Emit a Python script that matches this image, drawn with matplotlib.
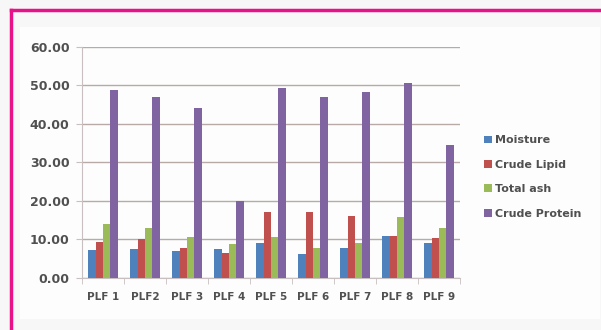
import numpy as np
import matplotlib.pyplot as plt
from matplotlib.lines import Line2D

categories = ['PLF 1', 'PLF2', 'PLF 3', 'PLF 4', 'PLF 5', 'PLF 6', 'PLF 7', 'PLF 8', 'PLF 9']
moisture = [7.2, 7.6, 7.0, 7.5, 9.1, 6.3, 7.9, 10.8, 9.2]
crude_lipid = [9.4, 10.0, 7.9, 6.5, 17.1, 17.1, 16.0, 10.8, 10.5]
total_ash = [13.9, 12.9, 10.6, 8.7, 10.6, 7.9, 9.2, 15.7, 13.0]
crude_protein = [48.8, 46.9, 44.0, 20.1, 49.3, 46.9, 48.2, 50.5, 34.6]
series_names = ['Moisture', 'Crude Lipid', 'Total ash', 'Crude Protein']
yticks = [0, 10, 20, 30, 40, 50, 60]

colors = ['#4F81BD', '#C0504D', '#9BBB59', '#8064A2']

fig = plt.figure(figsize=(6.01, 3.30), dpi=100)
fig.patch.set_facecolor('#f7f7f7')

# chart area panel, kept behind the axes
fig.add_artist(plt.Rectangle((20 / 601, 1 - 319 / 330), 580 / 601, 292 / 330,
                             transform=fig.transFigure, facecolor='#fdfdfd',
                             edgecolor='none', zorder=-10))
# pink frame (top and left)
fig.add_artist(Line2D([11 / 601, 1.0], [1 - 10 / 330, 1 - 10 / 330],
                      transform=fig.transFigure, color='#E8118A', lw=2.5))
fig.add_artist(Line2D([11 / 601, 11 / 601], [0, 1 - 10 / 330],
                      transform=fig.transFigure, color='#E8118A', lw=2.5))

ax = fig.add_axes([82 / 601, 1 - 278 / 330, 378 / 601, 231.3 / 330])
ax.set_facecolor('none')

x = np.arange(len(categories))
w = 0.178
data = [moisture, crude_lipid, total_ash, crude_protein]
for i, (vals, name) in enumerate(zip(data, series_names)):
    ax.bar(x + (i - 1.5) * w, vals, w, color=colors[i], label=name, zorder=3)

ax.set_xlim(-0.5, len(categories) - 0.5)
ax.set_ylim(0, 60)
ax.set_yticks(yticks)
ax.set_yticklabels(['%.2f' % v for v in yticks])
ax.yaxis.grid(True, color='#b9aaa8', lw=1.0, zorder=0)
ax.set_axisbelow(True)

for s in ['top', 'right']:
    ax.spines[s].set_visible(False)
ax.spines['left'].set_color('#c8c0c0')
ax.spines['bottom'].set_color('#c8c0c0')

ax.set_xticks(np.arange(-0.5, len(categories)), minor=True)
ax.set_xticks(x)
ax.set_xticklabels(categories)
ax.tick_params(axis='x', which='major', length=0, pad=10)
ax.tick_params(axis='x', which='minor', length=4, color='#c8c0c0')
ax.tick_params(axis='y', length=4, color='#c8c0c0', pad=5)
for lab in ax.get_xticklabels():
    lab.set_fontsize(7.5)
    lab.set_fontweight('bold')
    lab.set_color('#505050')
for lab in ax.get_yticklabels():
    lab.set_fontsize(9)
    lab.set_fontweight('bold')
    lab.set_color('#505050')

leg = ax.legend(loc='center left', bbox_to_anchor=(474 / 601, 1 - 177 / 330),
                bbox_transform=fig.transFigure, frameon=False,
                handlelength=0.7, handleheight=0.7, handletextpad=0.3,
                labelspacing=1.3, prop={'size': 8, 'weight': 'bold'})
for t in leg.get_texts():
    t.set_color('#505050')

fig.savefig('out.png', dpi=100, facecolor=fig.get_facecolor())
